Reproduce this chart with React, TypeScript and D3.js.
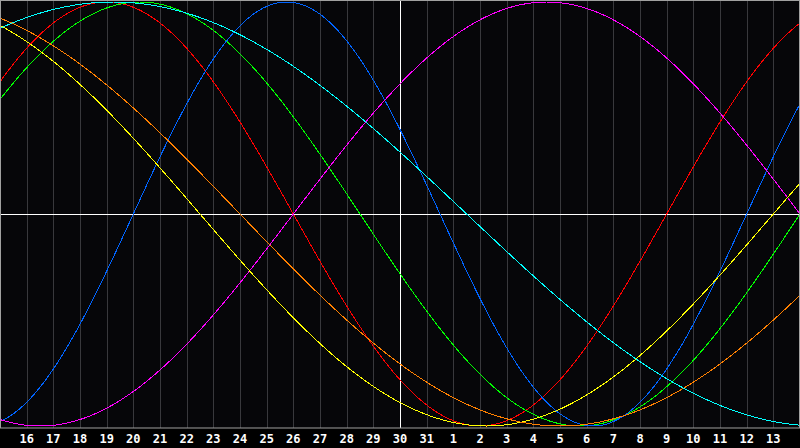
import React from "react";
import * as d3 from "d3";

// Biorhythm cycles (period in days) and their colours
const cycleNames = ["Physical", "Emotional", "Intellectual", "Intuitive", "Aesthetic", "Awareness", "Spiritual"];
const cyclePeriods = [23, 28, 33, 38, 43, 48, 53];
const cycleColors = ["#0064ff", "#ff0000", "#00ff00", "#ff00ff", "#ffff00", "#ff8000", "#00ffff"];
// days lived at the left edge of the chart (day 15)
const daysLivedAtStart = [19407];
// day labels (grid lines 1..29), the highlighted day is "30"
const dayLabels = ["16","17","18","19","20","21","22","23","24","25","26","27","28","29","30","31","1","2","3","4","5","6","7","8","9","10","11","12","13"];
const todayLabel = ["30"];
const totalDays = [30];

const W = 800;
const H = 448;
const plotBottom = 428;
const drawOrder = [1, 2, 0, 3, 4, 5, 6];

export default function App() {
  const x = d3.scaleLinear().domain([0, totalDays[0]]).range([0, W]);
  const y = d3.scaleLinear().domain([-1, 1]).range([426, 2]);
  const t0 = daysLivedAtStart[0];
  const samples = d3.range(0, totalDays[0] + 0.0001, 0.02);

  const paths = cyclePeriods.map((p) =>
    d3
      .line<number>()
      .x((d) => x(d))
      .y((d) => y(Math.sin((2 * Math.PI * (t0 + d)) / p)))(samples)
  );
  void cycleNames;

  return (
    <svg
      width={W}
      height={H}
      style={{ position: "absolute", left: 0, top: 0, display: "block", background: "#000" }}
    >
      <rect x={0} y={0} width={W} height={plotBottom} fill="#060609" />
      {dayLabels.map((lab, i) => {
        const xv = Math.round(x(i + 1)) + 0.5;
        const isToday = lab === todayLabel[0] && i === 14;
        return (
          <line
            key={"g" + i}
            x1={xv}
            x2={xv}
            y1={0}
            y2={plotBottom}
            stroke={isToday ? "#ffffff" : "#38383c"}
            strokeWidth={1}
          />
        );
      })}
      <line x1={0} x2={W} y1={214.5} y2={214.5} stroke="#ffffff" strokeWidth={1} />
      <g shapeRendering="crispEdges">
        {drawOrder.map((i) => (
          <path key={"c" + i} d={paths[i] || ""} fill="none" stroke={cycleColors[i]} strokeWidth={1} />
        ))}
      </g>
      <rect x={0.5} y={0.5} width={W - 1} height={plotBottom - 0.5} fill="none" stroke="#a0a0a0" strokeWidth={1} />
      {dayLabels.map((lab, i) => (
        <text
          key={"t" + i}
          x={x(i + 1)}
          y={443}
          textAnchor="middle"
          fill="#ffffff"
          fontFamily="'DejaVu Sans Mono', monospace"
          fontWeight="bold"
          fontSize={12}
        >
          {lab}
        </text>
      ))}
    </svg>
  );
}
